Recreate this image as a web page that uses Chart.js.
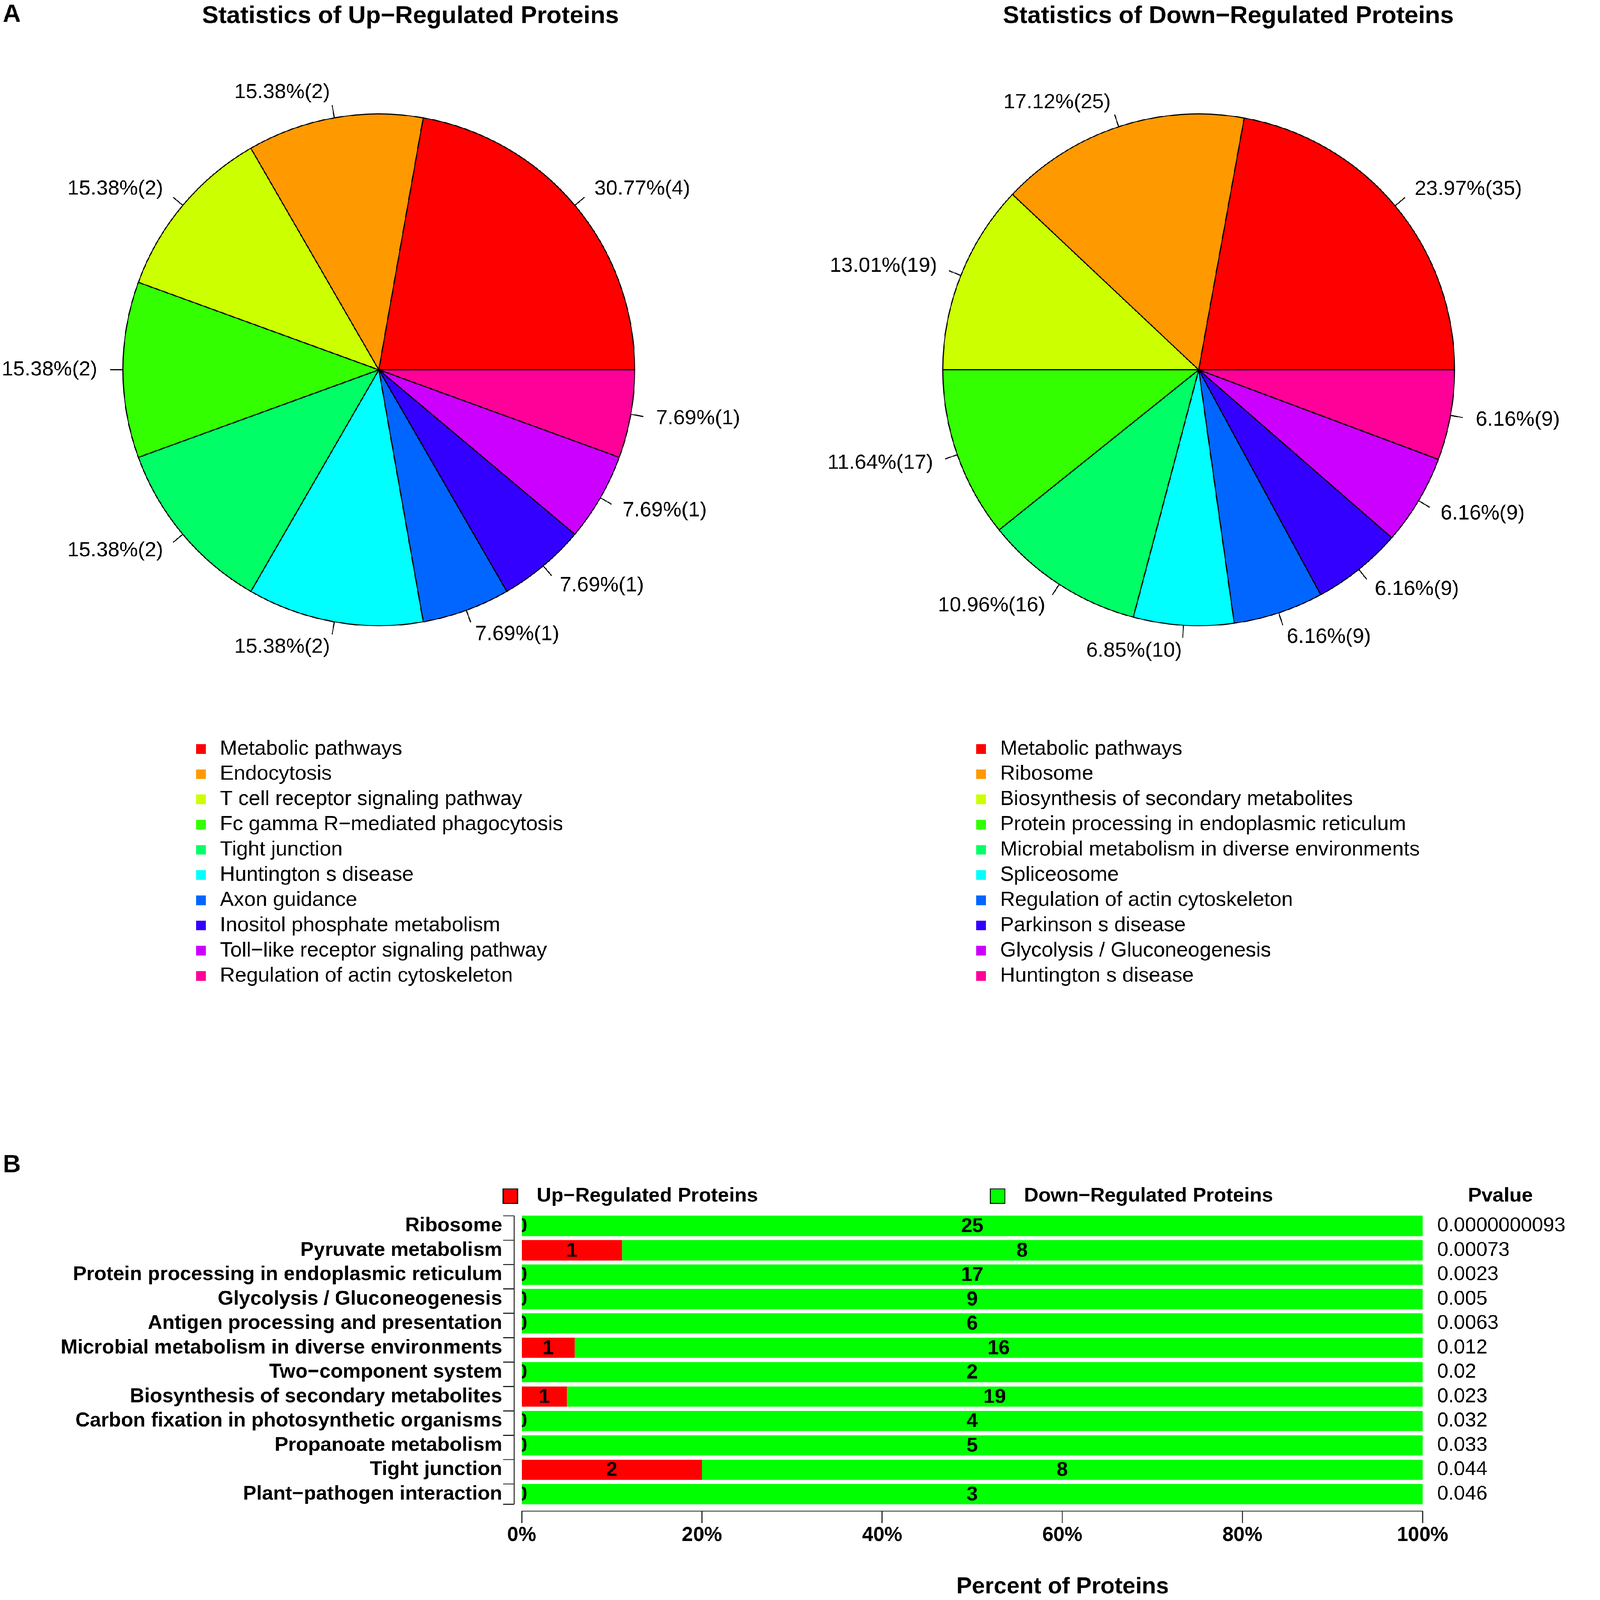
<!DOCTYPE html>
<html>
<head>
<meta charset="utf-8">
<script src="https://cdn.jsdelivr.net/npm/chart.js@4.4.1/dist/chart.umd.min.js"></script>
<style>
html,body{margin:0;padding:0;background:#fff;overflow:hidden;}
#page{width:4550px;height:4627px;position:absolute;left:0;top:0;transform-origin:0 0;}
canvas{position:absolute;}
#upPie{left:0;top:0;}
#downPie{left:2300px;top:0;}
#bars{left:0;top:3250px;}
</style>
</head>
<body>
<div id="page">
<canvas id="upPie" width="2300" height="2950"></canvas>
<canvas id="downPie" width="2250" height="2950"></canvas>
<canvas id="bars" width="4550" height="1377"></canvas>
</div>
<script>
// the window may not be 4550 css px wide, so fit the page into it
let pageScale=Math.min(window.innerWidth/4550,window.innerHeight/4627);
document.getElementById('page').style.transform='scale('+pageScale+')';

let fontFam="'Liberation Sans', Arial, Helvetica, sans-serif";
Chart.defaults.font.family=fontFam;
Chart.defaults.color='#000';

// pie data (A)
let pieColors=['#FF0000','#FF9900','#CCFF00','#33FF00','#00FF66','#00FFFF','#0066FF','#3300FF','#CC00FF','#FF0099'];

let upNames=['Metabolic pathways','Endocytosis','T cell receptor signaling pathway','Fc gamma R\u2212mediated phagocytosis','Tight junction','Huntington s disease','Axon guidance','Inositol phosphate metabolism','Toll\u2212like receptor signaling pathway','Regulation of actin cytoskeleton'];
let upCounts=[4,2,2,2,2,2,1,1,1,1];
let upPercents=['30.77','15.38','15.38','15.38','15.38','15.38','7.69','7.69','7.69','7.69'];

let downNames=['Metabolic pathways','Ribosome','Biosynthesis of secondary metabolites','Protein processing in endoplasmic reticulum','Microbial metabolism in diverse environments','Spliceosome','Regulation of actin cytoskeleton','Parkinson s disease','Glycolysis / Gluconeogenesis','Huntington s disease'];
let downCounts=[35,25,19,17,16,10,9,9,9,9];
let downPercents=['23.97','17.12','13.01','11.64','10.96','6.85','6.16','6.16','6.16','6.16'];

// bar data (B)
let barCats=['Ribosome','Pyruvate metabolism','Protein processing in endoplasmic reticulum','Glycolysis / Gluconeogenesis','Antigen processing and presentation','Microbial metabolism in diverse environments','Two\u2212component system','Biosynthesis of secondary metabolites','Carbon fixation in photosynthetic organisms','Propanoate metabolism','Tight junction','Plant\u2212pathogen interaction'];
let barUp=[0,1,0,0,0,1,0,1,0,0,2,0];
let barDown=[25,8,17,9,6,16,2,19,4,5,8,3];
let barPvalues=['0.0000000093','0.00073','0.0023','0.005','0.0063','0.012','0.02','0.023','0.032','0.033','0.044','0.046'];


// R draws pie slices counter clockwise, chart.js clockwise -> reverse the order
function pieExtras(names,counts,percents,title,titleX,legendX,tag){
    let texts=percents.map(function(p,i){ return p+'%('+counts[i]+')'; });
    return {
        id:'pieExtras',
        afterDatasetsDraw(chart){
            let ctx=chart.ctx;
            let meta=chart.getDatasetMeta(0);
            let n=meta.data.length;
            ctx.save();
            ctx.font='60px '+fontFam;
            ctx.fillStyle='#000';
            ctx.strokeStyle='#000';
            ctx.lineWidth=3;
            ctx.textBaseline='middle';
            meta.data.forEach(function(arc,i){
                let mid=(arc.startAngle+arc.endAngle)/2;
                let r=arc.outerRadius;
                let c=Math.cos(mid), s=Math.sin(mid);
                ctx.beginPath();
                ctx.moveTo(arc.x+c*r,arc.y+s*r);
                ctx.lineTo(arc.x+c*r*1.05,arc.y+s*r*1.05);
                ctx.stroke();
                ctx.textAlign= c<0 ? 'right' : 'left';
                ctx.fillText(texts[n-1-i],arc.x+c*r*1.1,arc.y+s*r*1.1);
            });

            // legend under the pie, one item per line
            ctx.textAlign='left';
            for(let i=0;i<names.length;i++){
                let y=2166+i*72.9;
                ctx.fillStyle=pieColors[i];
                ctx.fillRect(legendX,y-14,28,28);
                ctx.fillStyle='#000';
                ctx.fillText(names[i],legendX+69,y);
            }

            // main title, R centres it on the plot region not on the pie
            ctx.font='bold 71px '+fontFam;
            ctx.textAlign='center';
            ctx.fillText(title,titleX,47);

            if(tag){
                ctx.font='bold 72px '+fontFam;
                ctx.textAlign='left';
                ctx.fillText(tag,8,43);
            }
            ctx.restore();
        }
    };
}

function makePie(id,title,names,counts,percents,pad,titleX,legendX,tag){
    return new Chart(document.getElementById(id),{
        type:'pie',
        data:{
            labels:names.slice().reverse(),
            datasets:[{
                data:counts.slice().reverse(),
                backgroundColor:pieColors.slice().reverse(),
                borderColor:'#000',
                borderWidth:3
            }]
        },
        options:{
            responsive:false,
            animation:false,
            devicePixelRatio:1,
            events:[],
            rotation:90,
            layout:{padding:pad},
            plugins:{
                legend:{display:false},
                tooltip:{enabled:false},
                title:{display:false}
            }
        },
        plugins:[pieExtras(names,counts,percents,title,titleX,legendX,tag)]
    });
}

makePie('upPie','Statistics of Up\u2212Regulated Proteins',upNames,upCounts,upPercents,
    {left:354,right:463,top:328,bottom:1139},1187,567,'A');
makePie('downPie','Statistics of Down\u2212Regulated Proteins',downNames,downCounts,downPercents,
    {left:425,right:342,top:328,bottom:1139},1252,523,null);


// stacked percent bars
let upPct=barUp.map(function(u,i){ return u/(u+barDown[i])*100; });
let downPct=barDown.map(function(d,i){ return d/(barUp[i]+d)*100; });

let barExtras={
    id:'barExtras',
    afterDatasetsDraw(chart){
        let ctx=chart.ctx;
        let area=chart.chartArea;
        ctx.save();
        ctx.beginPath();
        ctx.rect(area.left,area.top,area.right-area.left,area.bottom-area.top);
        ctx.clip();
        ctx.font='bold 58px '+fontFam;
        ctx.fillStyle='#000';
        ctx.textAlign='center';
        ctx.textBaseline='middle';
        let counts=[barUp,barDown];
        chart.data.datasets.forEach(function(ds,d){
            chart.getDatasetMeta(d).data.forEach(function(bar,i){
                ctx.fillText(String(counts[d][i]),(bar.x+bar.base)/2,bar.y+2);
            });
        });
        ctx.restore();
    },
    afterDraw(chart){
        let ctx=chart.ctx;
        let area=chart.chartArea;
        let xs=chart.scales.x;
        let bars=chart.getDatasetMeta(1).data;
        ctx.save();
        ctx.strokeStyle='#222';
        ctx.lineWidth=3;

        // y axis with R style ticks at bar edges
        let ax=area.left-22;
        let top=bars[0].y-bars[0].height/2;
        let last=bars[bars.length-1];
        let bottom=last.y+last.height/2;
        ctx.beginPath();
        ctx.moveTo(ax,top);
        ctx.lineTo(ax,bottom);
        bars.forEach(function(b){
            let t=b.y-b.height/2;
            ctx.moveTo(ax,t);
            ctx.lineTo(ax-32,t);
        });
        ctx.moveTo(ax,bottom);
        ctx.lineTo(ax-32,bottom);
        ctx.stroke();

        // x axis
        let ay=area.bottom+14;
        ctx.beginPath();
        ctx.moveTo(xs.getPixelForValue(0),ay);
        ctx.lineTo(xs.getPixelForValue(100),ay);
        xs.ticks.forEach(function(t){
            let px=xs.getPixelForValue(t.value);
            ctx.moveTo(px,ay);
            ctx.lineTo(px,ay+34);
        });
        ctx.stroke();

        // legend on top
        ctx.font='bold 58px '+fontFam;
        ctx.textBaseline='middle';
        ctx.textAlign='left';
        let legendY=209;
        let items=[[1455,chart.data.datasets[0]],[2864,chart.data.datasets[1]]];
        items.forEach(function(it){
            ctx.fillStyle=it[1].backgroundColor;
            ctx.fillRect(it[0],legendY-21,42,42);
            ctx.lineWidth=3;
            ctx.strokeStyle='#000';
            ctx.strokeRect(it[0],legendY-21,42,42);
            ctx.fillStyle='#000';
            ctx.fillText(it[1].label,it[0]+97,legendY);
        });
        ctx.textAlign='center';
        ctx.fillText('Pvalue',4339,legendY);

        // p values column
        ctx.font='58px '+fontFam;
        ctx.textAlign='left';
        bars.forEach(function(b,i){
            ctx.fillText(barPvalues[i],4156,b.y);
        });

        // x title
        ctx.font='bold 67px '+fontFam;
        ctx.textAlign='center';
        ctx.fillText('Percent of Proteins',3073,1340);

        ctx.font='bold 72px '+fontFam;
        ctx.textAlign='left';
        ctx.fillText('B',8,120);
        ctx.restore();
    }
};

new Chart(document.getElementById('bars'),{
    type:'bar',
    data:{
        labels:barCats,
        datasets:[
            {label:'Up\u2212Regulated Proteins',data:upPct,backgroundColor:'#FF0000',barPercentage:0.833,categoryPercentage:1},
            {label:'Down\u2212Regulated Proteins',data:downPct,backgroundColor:'#00FF00',barPercentage:0.833,categoryPercentage:1}
        ]
    },
    options:{
        indexAxis:'y',
        responsive:false,
        animation:false,
        devicePixelRatio:1,
        events:[],
        layout:{padding:{left:0,right:436,top:260,bottom:0}},
        plugins:{legend:{display:false},tooltip:{enabled:false}},
        scales:{
            x:{
                stacked:true,
                min:0,
                max:100,
                grid:{display:false},
                border:{display:false},
                ticks:{
                    stepSize:20,
                    autoSkip:false,
                    maxRotation:0,
                    padding:41,
                    color:'#000',
                    font:{size:58,weight:'bold'},
                    callback:function(v){ return v+'%'; }
                },
                afterFit:function(s){ s.height=271; }
            },
            y:{
                stacked:true,
                grid:{display:false},
                border:{display:false},
                ticks:{
                    autoSkip:false,
                    padding:49,
                    color:'#000',
                    font:{size:58,weight:'bold'}
                },
                afterFit:function(s){ s.width=1509; }
            }
        }
    },
    plugins:[barExtras]
});
</script>
</body>
</html>
